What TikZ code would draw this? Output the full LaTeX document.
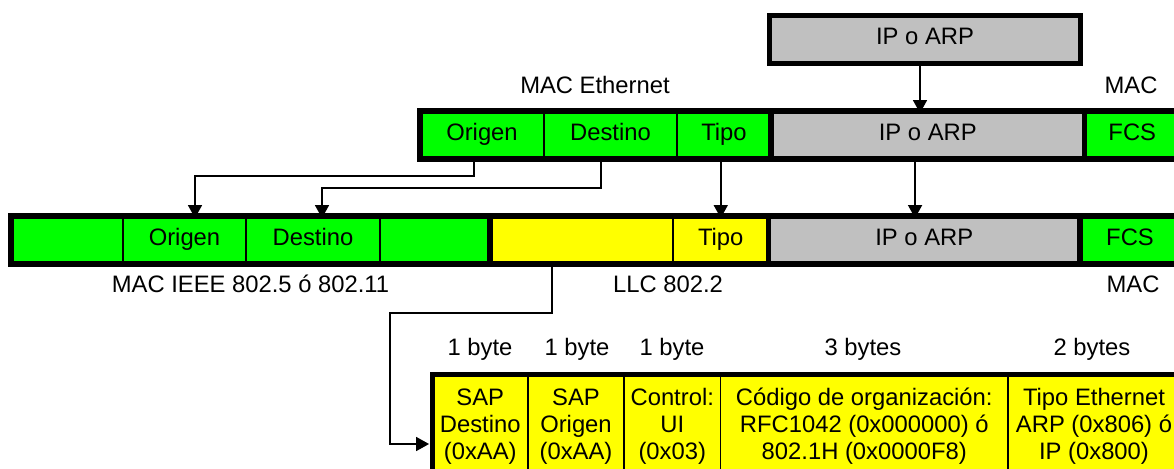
\documentclass[tikz,border=0pt]{standalone}
\usepackage{fontspec}
\setmainfont{Liberation Sans}
\usetikzlibrary{arrows.meta}

\definecolor{campo}{RGB}{0,255,0}
\definecolor{llc}{RGB}{255,255,0}
\definecolor{datos}{RGB}{192,192,192}

\tikzset{
  celda/.style={draw, line width=1.4pt, inner sep=0pt, minimum height=36pt, text height=1.0em, text depth=0.2em},
  celdallc/.style={draw, line width=1.4pt, inner sep=0pt, minimum height=78.75pt, fill=llc, align=center},
  marco/.style={line width=4.2pt},
  enlace/.style={line width=1.2pt, -{Triangle[width=10.5pt,length=9.75pt]}},
}

\begin{document}
\begin{tikzpicture}[x=0.75pt,y=0.75pt,yscale=-1,xscale=1,font=\fontsize{17.85}{20.6}\selectfont]
\useasboundingbox (0,0) rectangle (1174,468);
\clip (0,0) rectangle (1174,468);

%Shape: Rectangle - datagrama de arriba
\node [celda, fill=datos, line width=4.2pt, minimum width=233.25pt] (ipsup) at (925,39.5) {IP o ARP};

%Shape: Rectangle - trama Ethernet
\node [celda, fill=campo, minimum width=93pt] (eorig) at (482,135) {Origen};
\node [celda, fill=campo, minimum width=99.75pt] (edest) at (610.5,135) {Destino};
\node [celda, fill=campo, minimum width=70.5pt] (etipo) at (724,135) {Tipo};
\node [celda, fill=datos, minimum width=235.125pt] (eip) at (927.75,135) {IP o ARP};
\node [celda, fill=campo, minimum width=71.625pt] (efcs) at (1132.25,135) {FCS};
\draw [marco] (420,111) rectangle (771,159);
\draw [marco] (771,111) rectangle (1084.5,159);
\draw [marco] (1084.5,111) rectangle (1180,159);

%Shape: Rectangle - trama 802.5 / 802.11
\node [celda, fill=campo, minimum width=84pt] (lpre) at (67,240) {};
\node [celda, fill=campo, minimum width=92.25pt] (lorig) at (184.5,240) {Origen};
\node [celda, fill=campo, minimum width=100.5pt] (ldest) at (313,240) {Destino};
\node [celda, fill=campo, minimum width=82.5pt] (lpost) at (435,240) {};
\node [celda, fill=llc, minimum width=137.25pt] (lsnap) at (581.5,240) {};
\node [celda, fill=llc, minimum width=71.625pt] (ltipo) at (720.75,240) {Tipo};
\node [celda, fill=datos, minimum width=233.625pt] (lip) at (924.25,240) {IP o ARP};
\node [celda, fill=campo, minimum width=75pt] (lfcs) at (1130,240) {FCS};
\draw [marco] (11,216) rectangle (490,264);
\draw [marco] (490,216) rectangle (768.5,264);
\draw [marco] (768.5,216) rectangle (1080,264);
\draw [marco] (1080,216) rectangle (1180,264);

%Shape: Rectangle - cabecera LLC/SNAP
\node [celdallc, minimum width=71.625pt] (sapd) at (480.25,427) {\strut SAP\\Destino\\(0xAA)\strut};
\node [celdallc, minimum width=72pt] (sapo) at (576,427) {\strut SAP\\Origen\\(0xAA)\strut};
\node [celdallc, minimum width=72.375pt] (ctrl) at (672.25,427) {\strut Control:\\UI\\(0x03)\strut};
\node [celdallc, minimum width=215.625pt] (oui) at (864.25,427) {\strut Código de organización:\\RFC1042 (0x000000) ó\\802.1H (0x0000F8)\strut};
\node [celdallc, minimum width=129pt] (etype) at (1094,427) {\strut Tipo Ethernet\\ARP (0x806) ó\\IP (0x800)\strut};
\draw [marco] (432.5,374.5) rectangle (1180,479.5);

% Text Node
\node [anchor=base] (tmaceth) at (595,93.3) {MAC Ethernet};
% Text Node
\node [anchor=base] (tmacsup) at (1131,93.3) {MAC};
% Text Node
\node [anchor=base] (tmacieee) at (250.5,292.5) {MAC IEEE 802.5 ó 802.11};
% Text Node
\node [anchor=base] (tllc) at (668,292.5) {LLC 802.2};
% Text Node
\node [anchor=base] (tmacinf) at (1133,292) {MAC};
% Text Node
\node [anchor=base] (bsapd) at (480,355) {1 byte};
\node [anchor=base] (bsapo) at (577,355) {1 byte};
\node [anchor=base] (bctrl) at (672,355) {1 byte};
\node [anchor=base] (boui) at (863,355) {3 bytes};
\node [anchor=base] (btype) at (1092,355) {2 bytes};

%Straight Lines - puntos de conexion
\coordinate (pip) at ([xshift=-3.75pt]ipsup.south);
\coordinate (qipe) at ([yshift=2.25pt]eip.north);
\coordinate (porig) at ([xshift=-6pt]eorig.south);
\coordinate (qorig) at ([xshift=7.875pt,yshift=2.25pt]lorig.north);
\coordinate (pdest) at ([xshift=-7.125pt]edest.south);
\coordinate (qdest) at ([xshift=6.75pt,yshift=2.25pt]ldest.north);
\coordinate (qtipo) at ([yshift=2.25pt]ltipo.north);
\coordinate (qip) at ([xshift=-6.9pt,yshift=2.25pt]lip.north);
\coordinate (psnap) at ([xshift=-22.125pt]lsnap.south);
\coordinate (qsap) at ([xshift=-1.875pt,yshift=12.75pt]sapd.west);

%Straight Lines
\draw [enlace] (pip) -- (pip |- qipe);
\draw [enlace] (porig) -- ++(0,16) -| (qorig);
\draw [enlace] (pdest) -- ++(0,28) -| (qdest);
\draw [enlace] (qtipo |- etipo.south) -- (qtipo);
\draw [enlace] (qip |- eip.south) -- (qip);
\draw [enlace] (psnap) -- ++(0,48) -- ++(-162,0) |- (qsap);

\end{tikzpicture}
\end{document}
